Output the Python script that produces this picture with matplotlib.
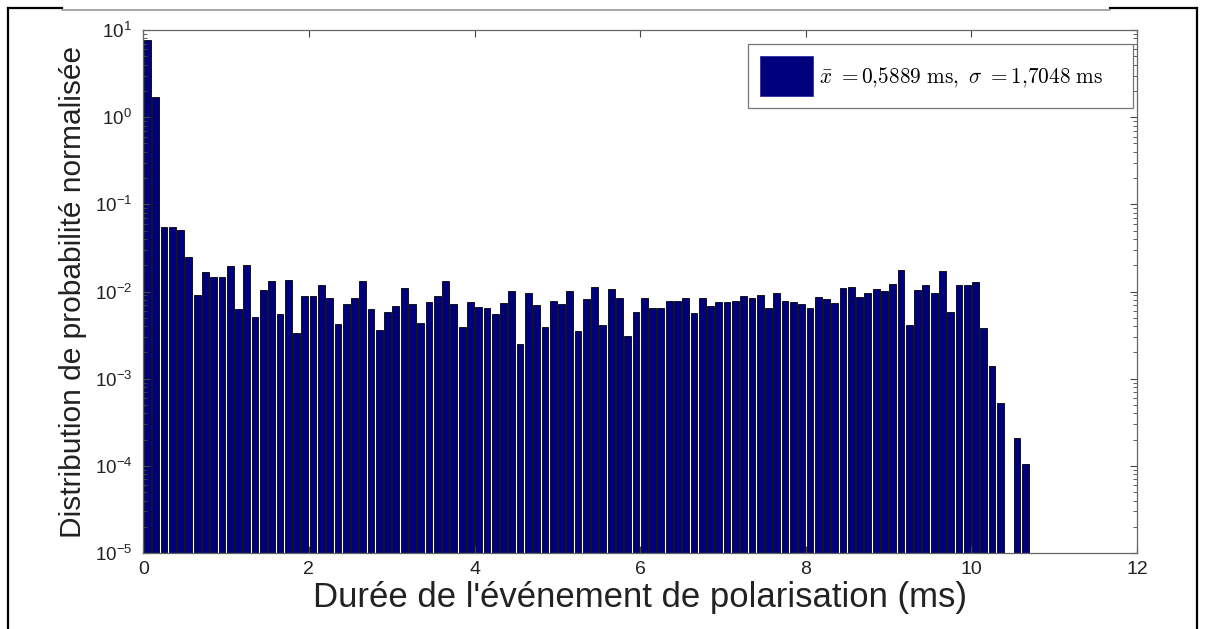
import numpy as np
import matplotlib
matplotlib.use("Agg")
import matplotlib.pyplot as plt
from matplotlib.lines import Line2D
from matplotlib.ticker import FixedLocator, LogFormatterSciNotation

plt.rcParams['font.family'] = ['Liberation Sans', 'DejaVu Sans']
plt.rcParams['mathtext.fontset'] = 'cm'

# ---- data (bin width 0.1 ms, bin centres 0.05 ... 10.65) ----
bin_width = 0.1
prob_density = [
    7.68, 1.72, 0.0554, 0.0554, 0.0508, 0.0251, 0.00912, 0.0169, 0.0148, 0.0148,
    0.0196, 0.00625, 0.0201, 0.00514, 0.0104, 0.0133, 0.00545, 0.0135, 0.00332, 0.00888,
    0.00888, 0.0119, 0.00832, 0.00419, 0.00719, 0.00836, 0.0133, 0.00638, 0.00362, 0.00582,
    0.00676, 0.0110, 0.00719, 0.00432, 0.00748, 0.00895, 0.0133, 0.00719, 0.00389, 0.00752,
    0.00659, 0.00641, 0.00552, 0.00732, 0.0102, 0.00250, 0.00954, 0.00700, 0.00389, 0.00778,
    0.00714, 0.0102, 0.00352, 0.00815, 0.0112, 0.00413, 0.0107, 0.00849, 0.00311, 0.00578,
    0.00836, 0.00641, 0.00650, 0.00778, 0.00778, 0.00849, 0.00560, 0.00836, 0.00687, 0.00764,
    0.00764, 0.00778, 0.00895, 0.00836, 0.00912, 0.00641, 0.00954, 0.00778, 0.00764, 0.00719,
    0.00641, 0.00859, 0.00815, 0.00732, 0.0109, 0.0114, 0.00859, 0.00954, 0.0106, 0.0102,
    0.0121, 0.0177, 0.00413, 0.0104, 0.0119, 0.00954, 0.0171, 0.00587, 0.0119, 0.0119,
    0.0130, 0.00379, 0.00138, 0.000524, 0.0, 0.000208, 0.000103,
]
legend_label = r"$\bar{x}\ {=}0{,}5889\ \mathrm{ms},\ \sigma\ {=}1{,}7048\ \mathrm{ms}$" + "\u00a0\u00a0\u00a0\u00a0"
x_label = "Durée de l'événement de polarisation (ms)"
y_label = "Distribution de probabilité normalisée"
x_ticks = [0, 2, 4, 6, 8, 10, 12]
y_ticks = [1e-5, 1e-4, 1e-3, 1e-2, 1e-1, 1e0, 1e1]

vals = np.array(prob_density, dtype=float)
centers = (np.arange(len(vals)) + 0.5) * bin_width
mask = vals > 0

W, H = 1208, 629
fig = plt.figure(figsize=(W / 100, H / 100), dpi=100)
fig.patch.set_facecolor('white')

def fx(px):
    return px / W

def fy(py):
    return 1 - py / H

ax = fig.add_axes([fx(143.3), fy(553), fx(1137) - fx(143.3), fy(30) - fy(553)])

ax.bar(centers[mask], vals[mask], width=0.082, color='#00007f', edgecolor='#000000',
       linewidth=0.6, label=legend_label, log=True, bottom=1e-6)
ax.set_yscale('log')
ax.set_ylim(1e-5, 1e1)
ax.set_xlim(0, 12)
ax.xaxis.set_major_locator(FixedLocator(x_ticks))
ax.set_xticklabels([str(t) for t in x_ticks])
ax.yaxis.set_major_locator(FixedLocator(y_ticks))
ax.yaxis.set_major_formatter(LogFormatterSciNotation())
minor = [m * d for d in y_ticks[:-1] for m in range(2, 10)]
ax.yaxis.set_minor_locator(FixedLocator(minor))
ax.yaxis.set_minor_formatter(plt.NullFormatter())

ax.tick_params(axis='both', which='both', direction='in', top=True, right=True, colors='#444444')
ax.tick_params(axis='x', which='major', labelsize=14, length=5, labelcolor='#222222', pad=6)
ax.tick_params(axis='y', which='major', labelsize=13.5, length=5, labelcolor='#222222', pad=8)
ax.tick_params(axis='y', which='minor', length=3)
for s in ax.spines.values():
    s.set_color('#666666')
    s.set_linewidth(0.9)

ax.set_xlabel(x_label, fontsize=25, color='#222222')
ax.xaxis.label.set_va('center')
ax.xaxis.set_label_coords(0.5, (553 - 598) / 523, transform=ax.transAxes)
ax.set_ylabel(y_label, fontsize=21.5, color='#222222')
ax.yaxis.label.set_va('center')
ax.yaxis.set_label_coords((73 - 143.3) / 993.7, 0.5, transform=ax.transAxes)

leg = ax.legend(loc='upper right', bbox_to_anchor=(0.996, 0.973), borderaxespad=0,
                fontsize=15.3, handlelength=2.5, handleheight=2.53, handletextpad=0.25,
                borderpad=0.55, fancybox=False, framealpha=1, edgecolor='#777777')
leg.get_frame().set_linewidth(0.9)
leg.legend_handles[0].set_edgecolor('#3030a0')

# outer frame of the figure cell
fig.add_artist(Line2D([fx(8), fx(8)], [fy(8), fy(629)], color='black', lw=1.6, transform=fig.transFigure))
fig.add_artist(Line2D([fx(1197), fx(1197)], [fy(8), fy(629)], color='black', lw=1.6, transform=fig.transFigure))
fig.add_artist(Line2D([fx(8), fx(62)], [fy(8), fy(8)], color='black', lw=1.6, transform=fig.transFigure))
fig.add_artist(Line2D([fx(1110), fx(1197)], [fy(8), fy(8)], color='black', lw=1.6, transform=fig.transFigure))
fig.add_artist(Line2D([fx(62), fx(1110)], [fy(10), fy(10)], color='#999999', lw=1.2, transform=fig.transFigure))

fig.savefig('out.png', dpi=100, facecolor='white')
